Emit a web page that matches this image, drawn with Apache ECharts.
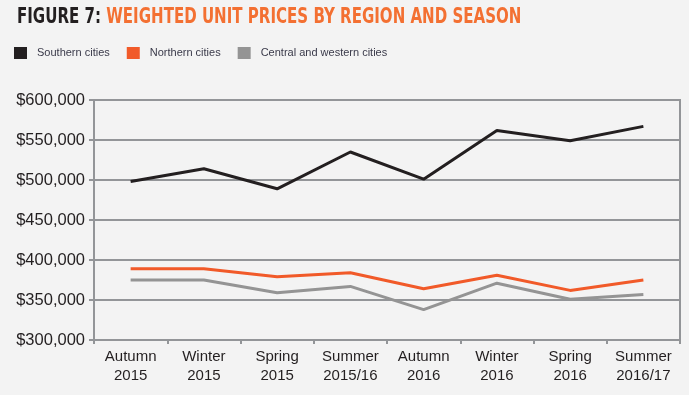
<!DOCTYPE html>
<html><head><meta charset="utf-8">
<script src="https://cdn.jsdelivr.net/npm/echarts@6/dist/echarts.min.js"></script>
<style>html,body{margin:0;padding:0;background:#f3f3f3;}#c{width:689px;height:395px;}</style>
</head><body><div id="c"></div>
<script>
var categories = ['Autumn\n2015','Winter\n2015','Spring\n2015','Summer\n2015/16','Autumn\n2016','Winter\n2016','Spring\n2016','Summer\n2016/17'];
var southern = [498000, 514000, 489000, 535000, 501000, 562000, 549000, 567000];
var northern = [389000, 389000, 379000, 384000, 364000, 381000, 362000, 375000];
var central = [375000, 375000, 359000, 367000, 338000, 371000, 351000, 357000];
var seriesNames = ['Southern cities','Northern cities','Central and western cities'];

var chart = echarts.init(document.getElementById('c'), null, {renderer:'canvas'});
var gray = '#939598';
var condensed = "'DejaVu Sans Condensed', 'DejaVu Sans', sans-serif";
function fmt(v){ return '$' + v.toLocaleString('en-US'); }
chart.setOption({
  backgroundColor:'#f3f3f3',
  animation:false,
  graphic:[{
    type:'text', left:17, top:6, scaleX:0.76, scaleY:1, originX:17,
    style:{
      text:'{a|FIGURE 7: }{b|WEIGHTED UNIT PRICES BY REGION AND SEASON}',
      rich:{
        a:{fontFamily:condensed, fontWeight:'bold', fontSize:22, fill:'#231f20'},
        b:{fontFamily:condensed, fontWeight:'bold', fontSize:22, fill:'#f37032'}
      }
    }
  }],
  legend:{
    left:14, top:47, padding:0, itemWidth:13, itemHeight:12, itemGap:17,
    icon:'rect',
    textStyle:{fontFamily:'Liberation Sans', fontSize:11, color:'#3a3a4a', padding:[0,0,0,5]},
    data:seriesNames
  },
  grid:{left:94, right:9, top:100, bottom:55, show:true, borderColor:gray, borderWidth:2, backgroundColor:'transparent'},
  xAxis:{
    type:'category', data:categories, boundaryGap:true,
    axisLine:{lineStyle:{color:gray, width:2}},
    axisTick:{show:true, length:4, lineStyle:{color:gray, width:2}},
    axisLabel:{fontFamily:'Liberation Sans', fontSize:15, color:'#231f20', lineHeight:19, margin:7, interval:0}
  },
  yAxis:{
    type:'value', min:300000, max:600000, interval:50000,
    axisLine:{show:true, lineStyle:{color:gray, width:2}},
    axisTick:{show:true, length:5, lineStyle:{color:gray, width:2}},
    splitLine:{lineStyle:{color:gray, width:2}},
    axisLabel:{fontFamily:'Liberation Sans', fontSize:16.5, color:'#231f20', margin:9, formatter:fmt}
  },
  series:[
    {name:seriesNames[0], type:'line', data:southern, symbol:'none', lineStyle:{width:3, color:'#231f20'}, itemStyle:{color:'#231f20'}},
    {name:seriesNames[1], type:'line', data:northern, symbol:'none', lineStyle:{width:3, color:'#f15a29'}, itemStyle:{color:'#f15a29'}},
    {name:seriesNames[2], type:'line', data:central, symbol:'none', lineStyle:{width:3, color:'#949494'}, itemStyle:{color:'#949494'}}
  ]
});
</script></body></html>
